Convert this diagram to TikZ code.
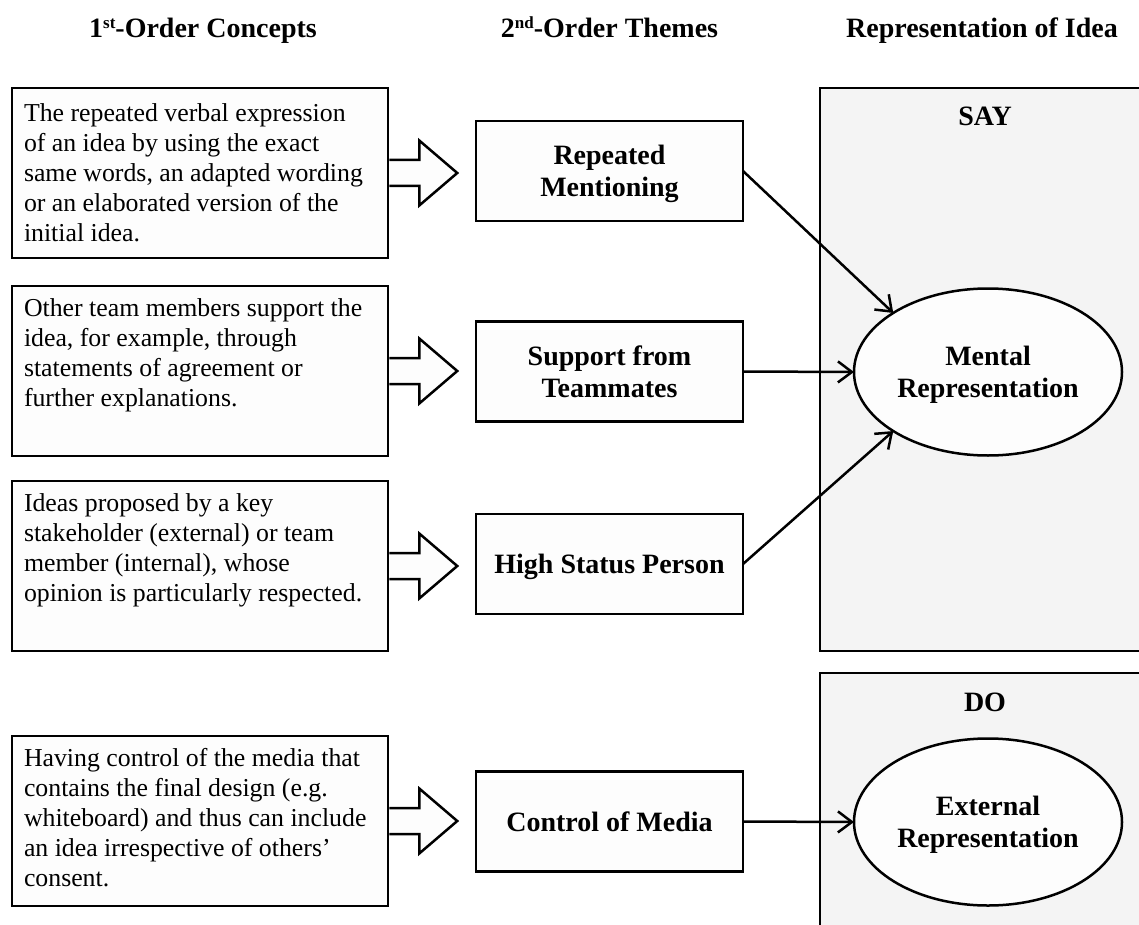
\documentclass[tikz,border=0pt]{standalone}
\usepackage{fontspec}
\setmainfont{Liberation Serif}
\usetikzlibrary{arrows.meta,shapes.geometric,calc}
\definecolor{panelgray}{HTML}{F4F4F4}
\definecolor{boxwhite}{HTML}{FDFDFD}
\newcommand{\conceptbody}[1]{\begin{minipage}[t][145pt][t]{352pt}\raggedright #1\end{minipage}}
\newcommand{\ordsup}[1]{\raisebox{8.5pt}{\fontsize{17}{17}\selectfont #1}}
\begin{document}
\begin{tikzpicture}[x=1pt,y=-1pt,
  every node/.style={outer sep=0pt},
  bodytext/.style={font=\fontsize{25.8}{30}\selectfont},
  boldtext/.style={font=\fontsize{28}{32}\selectfont\bfseries},
  concept/.style={draw, line width=2.5pt, fill=boxwhite, anchor=north west,
    inner xsep=12pt, inner ysep=12.5pt, bodytext},
  theme/.style={draw, line width=2.5pt, fill=boxwhite, minimum width=267pt,
    minimum height=100pt, boldtext, align=center, text depth=0pt},
  panel/.style={draw, line width=2.5pt, fill=panelgray, anchor=north west,
    minimum width=330pt},
  repr/.style={ellipse, draw, line width=2.5pt, fill=boxwhite, minimum width=268pt,
    minimum height=167pt, inner sep=0pt, boldtext, align=center, text depth=0pt},
  flow/.style={line width=2.5pt, -{Straight Barb[length=14pt,width=21pt]}},
  blockarrow/.style={line width=2.5pt, fill=boxwhite, line join=miter},
  header/.style={boldtext, anchor=base}
]
\useasboundingbox (0,0) rectangle (1139,925);

% column headings
\node[header] (h1) at (203,37.5) {1\ordsup{st}-Order Concepts};
\node[header] (h2) at (609.5,37.5) {2\ordsup{nd}-Order Themes};
\node[header] (h3) at (982,37.5) {Representation of Idea};

% SAY / DO panels
\node[panel, minimum height=563pt] (say) at (820,88) {};
\node[panel, minimum height=270pt] (do) at (820,673) {};
\node[header] (saylbl) at (985,126) {SAY};
\node[header] (dolbl) at (985,711) {DO};

% first-order concepts
\node[concept] (c1) at (12,88) {\conceptbody{\vspace*{3pt}The repeated verbal expression\\of an idea by using the exact\\same words, an adapted wording\\or an elaborated version of the\\initial idea.}};
\node[concept] (c2) at (12,286) {\conceptbody{Other team members support the\\idea, for example, through\\statements of agreement or\\further explanations.}};
\node[concept] (c3) at (12,481) {\conceptbody{Ideas proposed by a key\\stakeholder (external) or team\\member (internal), whose\\opinion is particularly respected.}};
\node[concept] (c4) at (12,736) {\conceptbody{Having control of the media that\\contains the final design (e.g.\\whiteboard) and thus can include\\an idea irrespective of others’\\consent.}};

% second-order themes
\node[theme] (m1) at (609.5,171) {Repeated\\Mentioning};
\node[theme] (m2) at (609.5,371.5) {Support from\\Teammates};
\node[theme] (m3) at (609.5,564) {High Status Person};
\node[theme] (m4) at (609.5,821.5) {Control of Media};

% representations
\node[repr] (ment) at (988,372) {Mental\\Representation};
\node[repr] (ext) at (988,822) {External\\Representation};

% block arrows from concepts to themes
\foreach \c in {c1,c2,c3,c4}{
  \draw[blockarrow] ($(\c.east)+(1.25,-13)$) -- ++(30,0) -- ++(0,-19.5)
    -- ++(38,32.5) -- ++(-38,32.5) -- ++(0,-19.5) -- ++(-30,0);
}

% themes to representations
\draw[flow] (m1.east) -- (ment.north west);
\draw[flow] (m2.east) -- (ment.west);
\draw[flow] (m3.east) -- (ment.south west);
\draw[flow] (m4.east) -- (ext.west);
\end{tikzpicture}
\end{document}
